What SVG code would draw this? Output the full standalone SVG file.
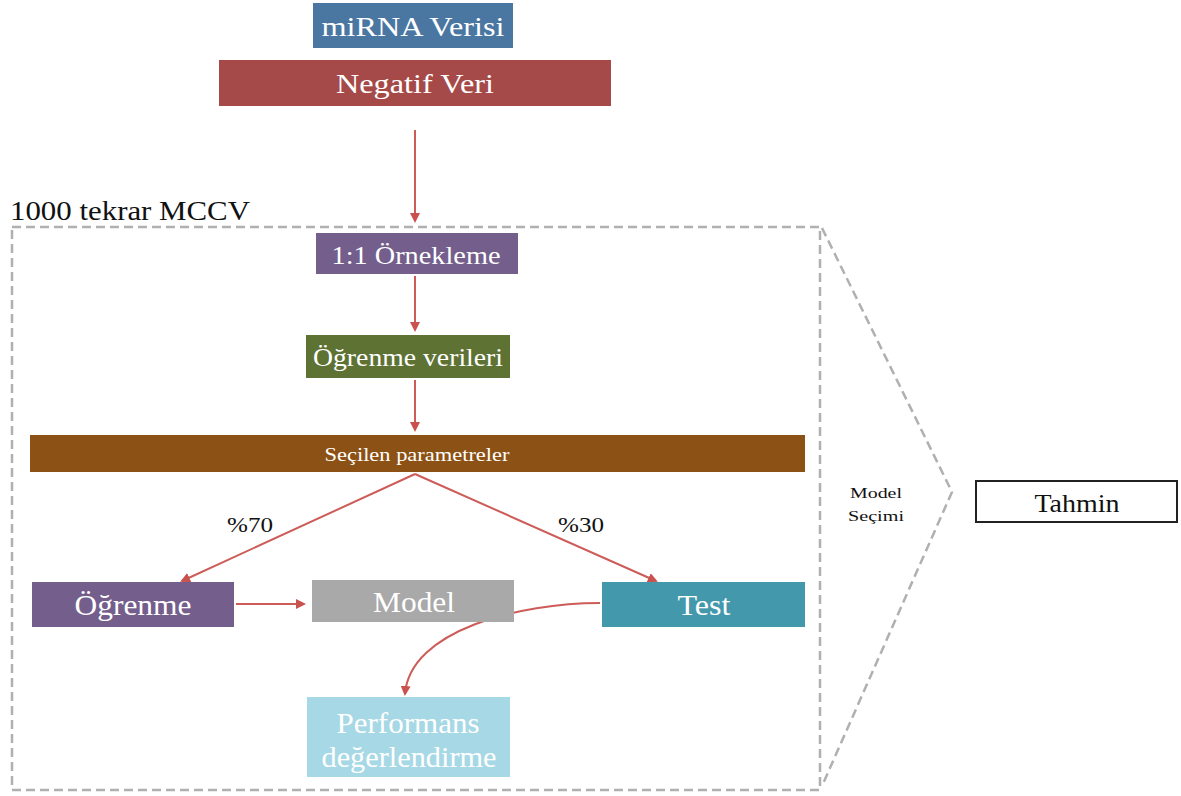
<svg xmlns="http://www.w3.org/2000/svg" width="1181" height="796" viewBox="0 0 1181 796">
<defs>
<marker id="ah" markerWidth="10" markerHeight="10" refX="8" refY="5" orient="auto" markerUnits="userSpaceOnUse">
<path d="M0,0 L10,5 L0,10 Z" fill="#c9524f"/>
</marker>
<style>
text{font-family:"Liberation Serif","DejaVu Serif",serif}
.t{fill:#fff;text-anchor:middle}
.b{fill:#111}
.c{fill:none;stroke:#cd5c58;stroke-width:2}
.d{fill:none;stroke:#b0b0b0;stroke-width:2.5;stroke-dasharray:9 5}
</style>
</defs>
<rect width="1181" height="796" fill="#fff"/>
<g id="frame">
<rect class="d" x="12" y="227" width="808" height="563"/>
<polyline class="d" points="822,228 952,492 822,786"/>
<text class="b" x="10" y="220" font-size="28" textLength="240" lengthAdjust="spacingAndGlyphs">1000 tekrar MCCV</text>
<text class="b" x="876" y="498" font-size="15" text-anchor="middle" textLength="52" lengthAdjust="spacingAndGlyphs">Model</text>
<text class="b" x="876" y="521" font-size="15" text-anchor="middle" textLength="56" lengthAdjust="spacingAndGlyphs">Seçimi</text>
</g>
<g id="connectors">
<line class="c" x1="415" y1="130" x2="415" y2="221" marker-end="url(#ah)"/>
<line class="c" x1="415" y1="276" x2="415" y2="330" marker-end="url(#ah)"/>
<line class="c" x1="415" y1="380" x2="415" y2="430" marker-end="url(#ah)"/>
<line class="c" x1="415" y1="474" x2="182" y2="581" marker-end="url(#ah)"/>
<line class="c" x1="415" y1="474" x2="656" y2="581" marker-end="url(#ah)"/>
<line class="c" x1="236" y1="604" x2="304" y2="604" marker-end="url(#ah)"/>
<path class="c" d="M600,603 C520,603 410,630 405,694" marker-end="url(#ah)"/>
<text class="b" x="250" y="532" font-size="21" text-anchor="middle" textLength="46" lengthAdjust="spacingAndGlyphs">%70</text>
<text class="b" x="581" y="532" font-size="21" text-anchor="middle" textLength="46" lengthAdjust="spacingAndGlyphs">%30</text>
</g>
<g id="mirna">
<rect x="313" y="3" width="200" height="45" fill="#4a76a2"/>
<text class="t" x="413" y="36" font-size="28" textLength="183" lengthAdjust="spacingAndGlyphs">miRNA Verisi</text>
</g>
<g id="negatif">
<rect x="219" y="60" width="392" height="46" fill="#a54a48"/>
<text class="t" x="415" y="93" font-size="28" textLength="158" lengthAdjust="spacingAndGlyphs">Negatif Veri</text>
</g>
<g id="ornekleme">
<rect x="316" y="233" width="202" height="41" fill="#735e8c"/>
<text class="t" x="416" y="264" font-size="25" textLength="169" lengthAdjust="spacingAndGlyphs">1:1 Örnekleme</text>
</g>
<g id="ogrenme-verileri">
<rect x="306" y="335" width="204" height="43" fill="#5e7234"/>
<text class="t" x="408" y="366" font-size="25" textLength="190" lengthAdjust="spacingAndGlyphs">Öğrenme verileri</text>
</g>
<g id="parametreler">
<rect x="30" y="435" width="775" height="37" fill="#8c5114"/>
<text class="t" x="417" y="461" font-size="19" textLength="185" lengthAdjust="spacingAndGlyphs">Seçilen parametreler</text>
</g>
<g id="ogrenme">
<rect x="32" y="582" width="202" height="45" fill="#735e8c"/>
<text class="t" x="133" y="615" font-size="29" textLength="117" lengthAdjust="spacingAndGlyphs">Öğrenme</text>
</g>
<g id="model">
<rect x="312" y="580" width="202" height="42" fill="#a9a9a9"/>
<text class="t" x="414" y="612" font-size="29" textLength="82" lengthAdjust="spacingAndGlyphs">Model</text>
</g>
<g id="test">
<rect x="602" y="582" width="203" height="45" fill="#4398ab"/>
<text class="t" x="704" y="615" font-size="29" textLength="53" lengthAdjust="spacingAndGlyphs">Test</text>
</g>
<g id="performans">
<rect x="307" y="697" width="203" height="80" fill="#a7d8e5"/>
<text class="t" x="408" y="733" font-size="29" textLength="143" lengthAdjust="spacingAndGlyphs">Performans</text>
<text class="t" x="409" y="767" font-size="29" textLength="175" lengthAdjust="spacingAndGlyphs">değerlendirme</text>
</g>
<g id="tahmin">
<rect x="976" y="481" width="201" height="41" fill="#fff" stroke="#222" stroke-width="2"/>
<text class="b" x="1077" y="512" font-size="25" text-anchor="middle" textLength="85" lengthAdjust="spacingAndGlyphs">Tahmin</text>
</g>
</svg>
